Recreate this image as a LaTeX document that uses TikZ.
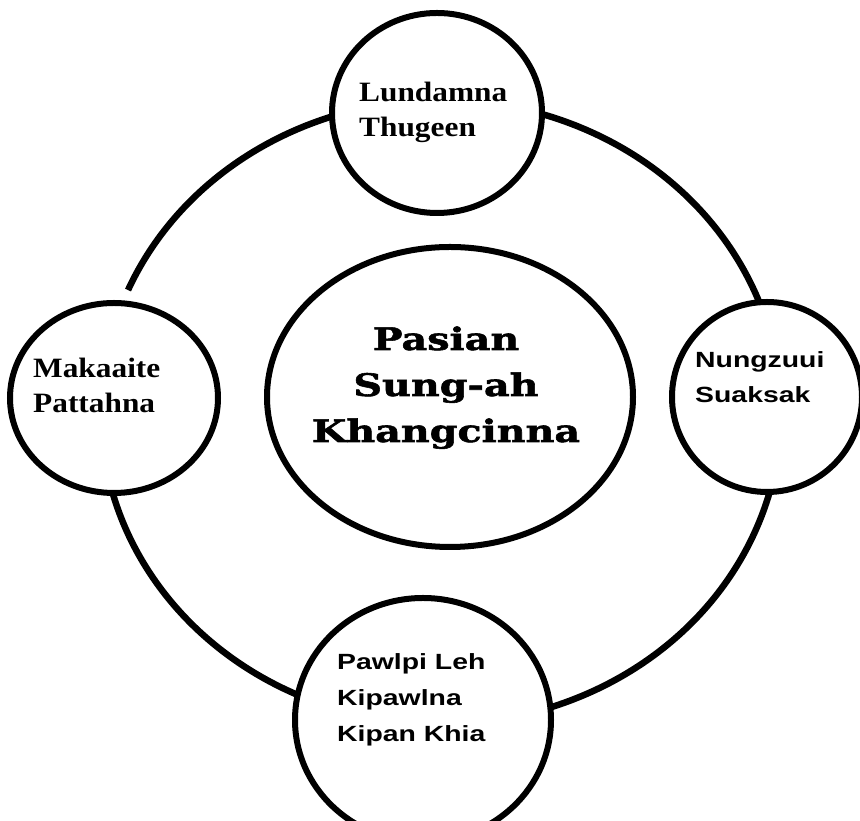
\documentclass[tikz,border=0pt]{standalone}
\usepackage{fontspec}
\newfontfamily\serifbold[FakeStretch=1.12]{Liberation Serif}
\newfontfamily\sansbold[FakeStretch=1.29]{Liberation Sans}
\newfontfamily\slabbold[FakeStretch=1.28,BoldFeatures={FakeBold=1.8}]{DejaVu Serif}
\usetikzlibrary{shapes.geometric,positioning,calc}

\tikzset{
  bubble/.style={draw, ellipse, line width=6pt, fill=white, inner sep=0pt},
  ringline/.style={line width=6.5pt},
  timeslbl/.style={anchor=base west, align=left, inner sep=0pt, font=\serifbold\bfseries\fontsize{28}{35}\selectfont},
  ariallbl/.style={anchor=base west, align=left, inner sep=0pt, font=\sansbold\bfseries\fontsize{22}{35}\selectfont},
}

\begin{document}
\begin{tikzpicture}[x=1pt, y=1pt]
  \useasboundingbox (0,0) rectangle (860,821);
  \clip (0,0) rectangle (860,821);
  % big ring behind everything
  \coordinate (ring) at (441,409);
  \draw[ringline] (ring) ++(157:340pt and 312pt) arc[start angle=157, end angle=-170, x radius=340pt, y radius=312pt];

  % the four outer bubbles and the middle one
  \node[bubble, minimum width=210pt, minimum height=200pt] (thugeen) at (437,708) {};
  \node[bubble, minimum width=208pt, minimum height=190pt] (pattahna) at (114,423) {};
  \node[bubble, minimum width=190pt, minimum height=190pt] (suaksak) at (767,424) {};
  \node[bubble, minimum width=256pt, minimum height=244pt] (kipan) at (423,101) {};
  \node[bubble, minimum width=366pt, minimum height=300pt] (pasian) at (450,424) {};

  % texts (anchored on the last line)
  \node[timeslbl] (lundamna) at (359,684) {Lundamna\\Thugeen};
  \node[timeslbl] (makaaite) at (33,408) {Makaaite\\Pattahna};
  \node[ariallbl] (nungzuui) at (695,418) {Nungzuui\\Suaksak};
  \node[ariallbl, font=\sansbold\bfseries\fontsize{22}{36}\selectfont] (pawlpi) at (337,79) {Pawlpi Leh\\Kipawlna\\Kipan Khia};
  \node[anchor=base, align=center, inner sep=0pt, font=\slabbold\bfseries\fontsize{31}{46}\selectfont] (sungah) at (446,379) {Pasian\\Sung-ah\\Khangcinna};
\end{tikzpicture}
\end{document}
